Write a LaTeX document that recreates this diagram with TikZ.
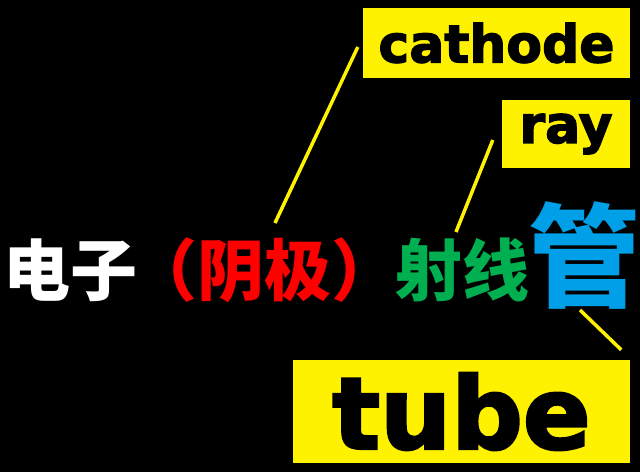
\documentclass[tikz,border=0pt]{standalone}
\usepackage{fontspec}
\usepackage{xcolor}
\usetikzlibrary{positioning, calc}
\newfontfamily\cjkfont{Noto Sans CJK SC}
\newfontfamily\engfont{DejaVu Sans}[BoldFeatures={FakeBold=2.5}]
\definecolor{tubeblue}{HTML}{00A0E9}
\definecolor{raygreen}{HTML}{00B050}
\definecolor{cathodered}{HTML}{FF0000}

\begin{document}
\begin{tikzpicture}[x=1pt, y=-1pt,
	hanzi/.style={inner sep=0pt, anchor=base, font=\cjkfont\bfseries\fontsize{67}{67}\selectfont},
	wordbox/.style={fill=yellow, text=black, inner sep=0pt, align=center, font=\engfont\bfseries\fontsize{52}{52}\selectfont},
	lead/.style={draw=yellow, line width=3.5pt}]
	% Background
	\fill[black] (0,0) rectangle (640,472);
	
	% Chinese term
	\node[hanzi, text=white] (dianzi) at (71,295) {电子};
	\node[hanzi, text=cathodered] (yinji) at (264,295) {（阴极）};
	\node[hanzi, text=raygreen] (shexian) at (462,295) {射线};
	\node[hanzi, text=tubeblue, font=\cjkfont\bfseries\fontsize{112}{112}\selectfont] (guan) at (584,298) {管};
	
	% English words
	\node[wordbox, minimum width=267, minimum height=70] (cathode) at (496.5,43) {cathode};
	\node[wordbox, minimum width=128, minimum height=68] (ray) at (566,134) {ray};
	\node[wordbox, minimum width=337, minimum height=103, font=\engfont\bfseries\fontsize{100}{100}\selectfont] (tube) at (461.5,411.5) {tube};
	
	% Leaders
	\draw[lead] ([shift={(-5,4)}]cathode.west) -- ([shift={(11,-72)}]yinji.base);
	\draw[lead] ([shift={(-9,6)}]ray.west) -- ([shift={(-6,-63)}]shexian.base);
	\draw[lead] ([shift={(-4,12)}]guan.base) -- ([shift={(-9,-10)}]tube.north east);
\end{tikzpicture}
\end{document}
